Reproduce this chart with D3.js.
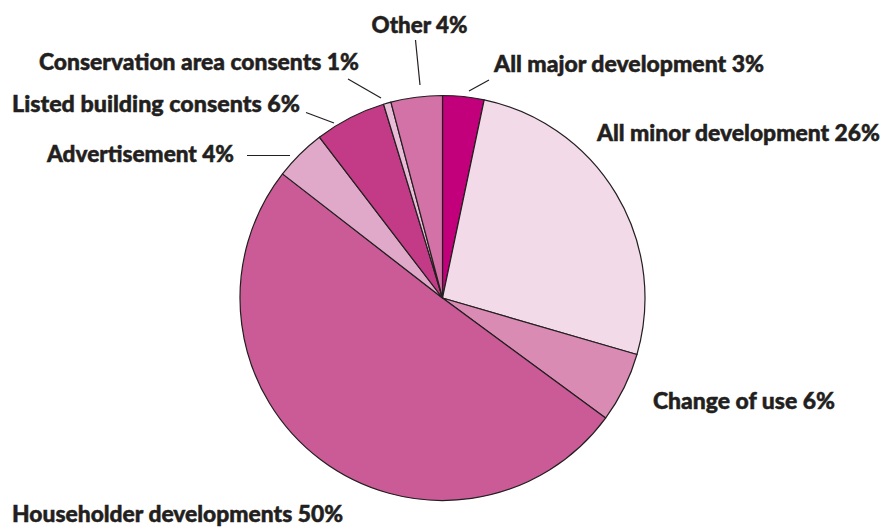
<!DOCTYPE html>
<html>
<head>
<meta charset="utf-8">
<script src="https://cdn.jsdelivr.net/npm/d3@7"></script>
<style>
  body { margin: 0; background: #fff; }
  text { font-family: Lato, "Open Sans", sans-serif; font-weight: 900; fill: #231f20; }
</style>
</head>
<body>
<svg width="886" height="527"></svg>
<script>
var width = 886;
var height = 527;
var radius = 202.5;
var cx = 442.5, cy = 298;

// categories clockwise from 12 o'clock
var categories = ["All major development", "All minor development", "Change of use",
  "Householder developments", "Advertisement", "Listed building consents",
  "Conservation area consents", "Other"];
// shares (%)
var shares = [3.3, 26.2, 5.6, 50.4, 4.1, 5.7, 0.6, 4.1];
var colors = ["#c2007b", "#f2dae8", "#d98bb3", "#cb5b97", "#e0a8c9", "#c33b87", "#e9bdd7", "#d272a6"];

// label layout: text x / baseline y / fitted width, leader line [x1, y1, x2, y2]
var labelPos = [
  {x: 494, y: 72, w: 270, leader: [489, 80, 469, 91]},
  {x: 597, y: 141, w: 283, leader: null},
  {x: 653, y: 409, w: 182, leader: null},
  {x: 12, y: 522, w: 331, leader: null},
  {x: 47, y: 162, w: 187, leader: [247, 155.5, 290, 155.5]},
  {x: 12, y: 112, w: 288, leader: [306, 112.5, 334, 123]},
  {x: 39, y: 70, w: 320, leader: [348, 79, 381, 98]},
  {x: 371.5, y: 33, w: 96, leader: [415.5, 40, 420, 85]}
];

var data = categories.map(function(c, i) {
  return {name: c, value: shares[i], color: colors[i], label: labelPos[i]};
});

var svg = d3.select("svg")
    .attr("width", width)
    .attr("height", height);

var pie = d3.pie()
    .value(d => d.value)
    .sort(null);

var arc = d3.arc()
    .innerRadius(0)
    .outerRadius(radius);

var g = svg.append("g")
    .attr("transform", "translate(" + cx + "," + cy + ")");

g.selectAll("path")
  .data(pie(data))
  .enter()
  .append("path")
    .attr("d", arc)
    .attr("fill", d => d.data.color)
    .attr("stroke", "#231f20")
    .attr("stroke-width", 1.2)
    .attr("stroke-linejoin", "round");

svg.selectAll("line.leader")
  .data(data.filter(d => d.label.leader))
  .enter()
  .append("line")
    .attr("class", "leader")
    .attr("x1", d => d.label.leader[0])
    .attr("y1", d => d.label.leader[1])
    .attr("x2", d => d.label.leader[2])
    .attr("y2", d => d.label.leader[3])
    .attr("stroke", "#231f20")
    .attr("stroke-width", 1.2);

svg.selectAll("text.label")
  .data(data)
  .enter()
  .append("text")
    .attr("class", "label")
    .attr("x", d => d.label.x)
    .attr("y", d => d.label.y)
    .attr("textLength", d => d.label.w)
    .attr("lengthAdjust", "spacingAndGlyphs")
    .style("font-size", "23px")
    .style("stroke", "#231f20")
    .style("stroke-width", 0.5)
    .text(d => d.name + " " + Math.round(d.value) + "%");
</script>
</body>
</html>
